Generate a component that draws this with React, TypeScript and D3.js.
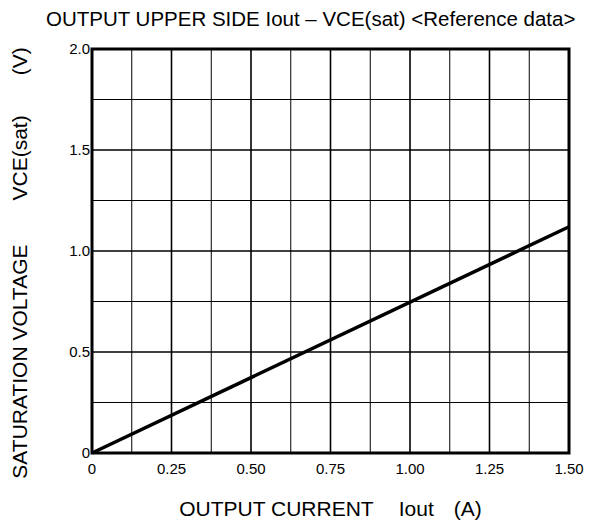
import * as React from 'react'
import { scaleLinear, line, range } from 'd3'

const currentA = [0, 1.5]
const vceSat = [0, 1.12]
const xTicks = [0, 0.25, 0.5, 0.75, 1.0, 1.25, 1.5]
const xTickLabels = ['0', '0.25', '0.50', '0.75', '1.00', '1.25', '1.50']
const yTicks = [0, 0.5, 1.0, 1.5, 2.0]
const yTickLabels = ['0', '0.5', '1.0', '1.5', '2.0']

const width = 597
const height = 530
const margin = { left: 92, right: 28, top: 49, bottom: 77 }
const font = 'Liberation Sans, Arial, sans-serif'

function App() {
  const x = scaleLinear().domain([0, 1.5]).range([margin.left, width - margin.right])
  const y = scaleLinear().domain([0, 2]).range([height - margin.bottom, margin.top])
  const points = currentA.map((c, i) => [c, vceSat[i]] as [number, number])
  const path = line<[number, number]>()
    .x((d) => x(d[0]))
    .y((d) => y(d[1]))(points)

  const xGrid = range(1, 12).map((i) => i * 0.125)
  const yGrid = range(1, 8).map((i) => i * 0.25)

  return (
    <svg width={width} height={height} style={{ position: 'absolute', left: 0, top: 0 }}>
      <rect width={width} height={height} fill="#fff" />
      <text x={46} y={26} fontFamily={font} fontSize={20.5} fill="#000">
        OUTPUT UPPER SIDE Iout – VCE(sat) &lt;Reference data&gt;
      </text>
      {xGrid.map((v) => (
        <line key={'vx' + v} x1={x(v)} x2={x(v)} y1={y(0)} y2={y(2)} stroke="#000" strokeWidth={v % 0.25 === 0 ? 1.6 : 1} />
      ))}
      {yGrid.map((v) => (
        <line key={'hy' + v} x1={x(0)} x2={x(1.5)} y1={y(v)} y2={y(v)} stroke="#000" strokeWidth={v % 0.5 === 0 ? 1.6 : 1} />
      ))}
      <rect x={x(0)} y={y(2)} width={x(1.5) - x(0)} height={y(0) - y(2)} fill="none" stroke="#000" strokeWidth={3} />
      <path d={path ?? ''} fill="none" stroke="#000" strokeWidth={3.5} />
      {xTicks.map((v, i) => (
        <text key={'xt' + v} x={x(v)} y={y(0) + 21} textAnchor="middle" fontFamily={font} fontSize={15} fill="#000">
          {xTickLabels[i]}
        </text>
      ))}
      {yTicks.map((v, i) => (
        <text key={'yt' + v} x={x(0) - 2} y={y(v)} dy="0.35em" textAnchor="end" fontFamily={font} fontSize={15} fill="#000">
          {yTickLabels[i]}
        </text>
      ))}
      <text x={(x(0) + x(1.5)) / 2} y={516} textAnchor="middle" fontFamily={font} fontSize={21} fill="#000">
        <tspan>OUTPUT CURRENT</tspan>
        <tspan dx={25}>Iout</tspan>
        <tspan dx={20}>(A)</tspan>
      </text>
      <text
        transform={`translate(27, ${(y(0) + y(2)) / 2 + 12}) rotate(-90)`}
        textAnchor="middle"
        fontFamily={font}
        fontSize={21}
        fill="#000"
      >
        <tspan>SATURATION VOLTAGE</tspan>
        <tspan dx={44}>VCE(sat)</tspan>
        <tspan dx={40}>(V)</tspan>
      </text>
    </svg>
  )
}

export default App
